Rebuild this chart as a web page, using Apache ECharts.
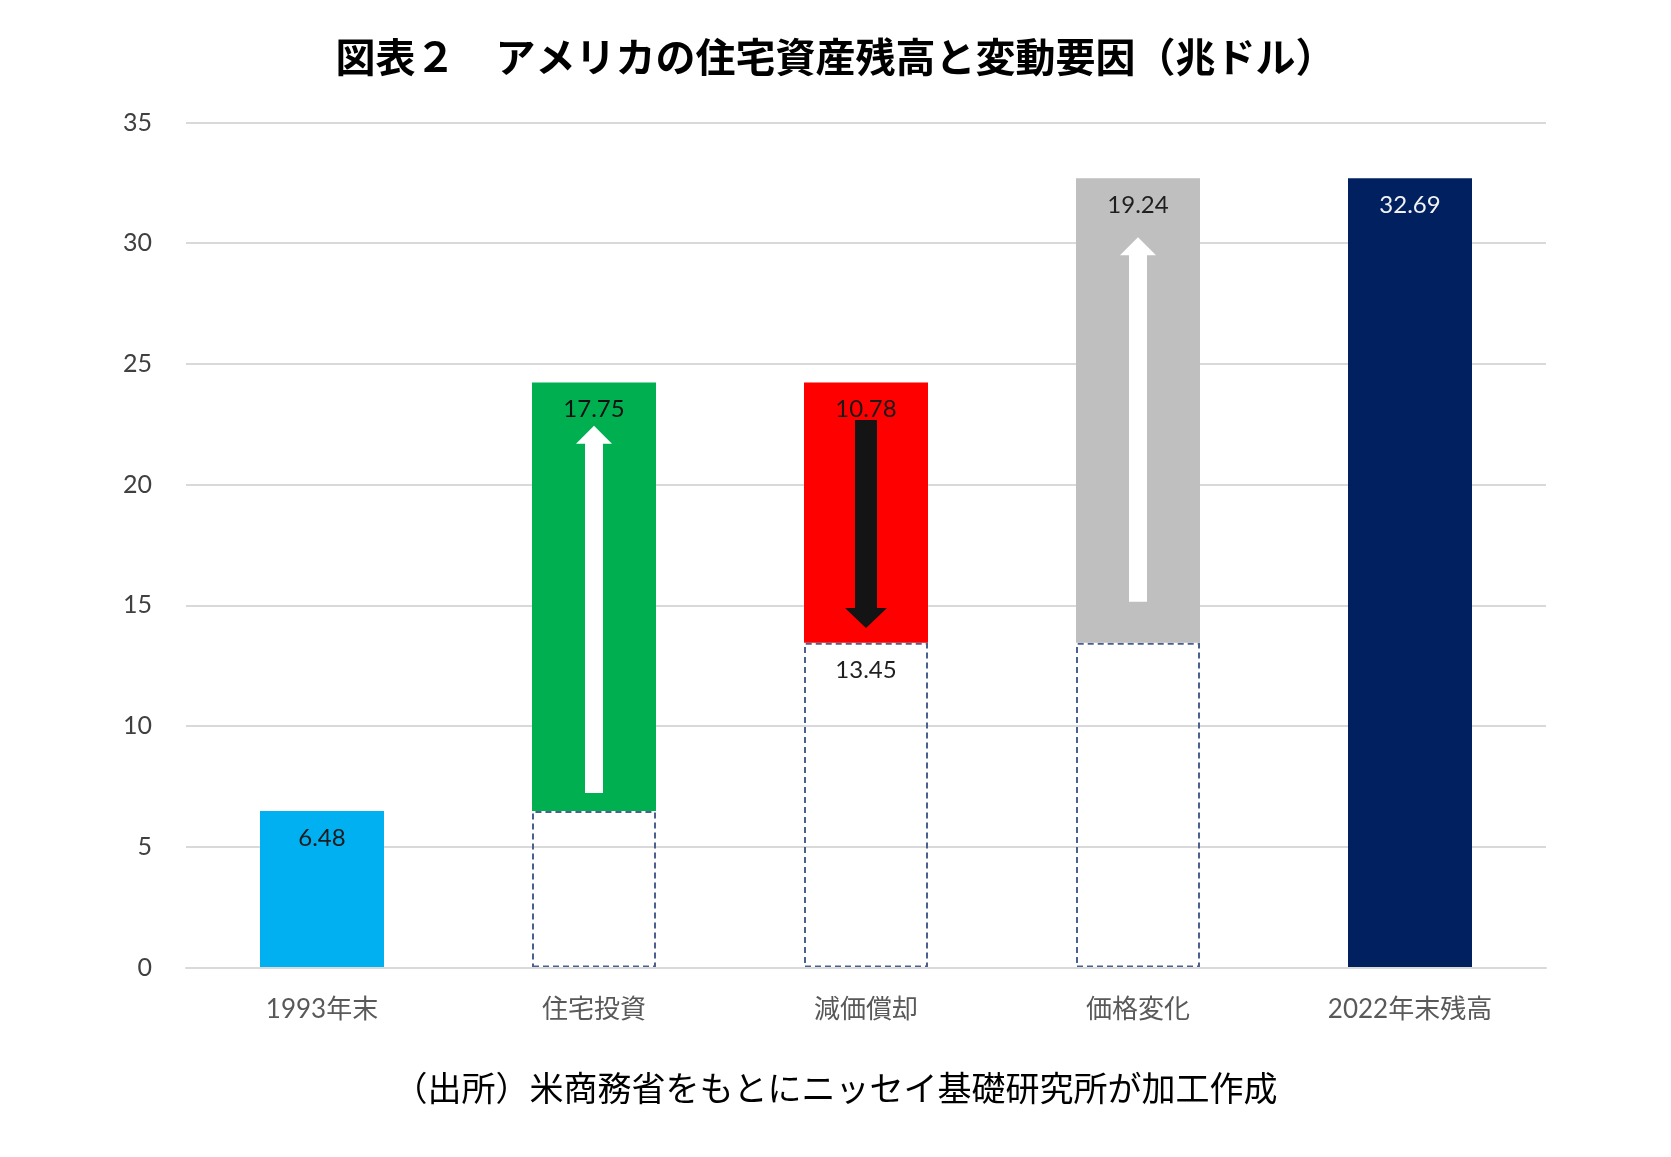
<!DOCTYPE html>
<html>
<head>
<meta charset="utf-8">
<script src="https://cdn.jsdelivr.net/npm/echarts@6/dist/echarts.min.js"></script>
<style>
html,body{margin:0;padding:0;background:#fff;}
#chart{width:1671px;height:1157px;}
</style>
</head>
<body>
<div id="chart"></div>
<script>
// ---- data ----
const categories = ['1993年末', '住宅投資', '減価償却', '価格変化', '2022年末残高'];
const startValue = 6.48;                 // 1993年末
const changes = [17.75, -10.78, 19.24];  // 住宅投資, 減価償却, 価格変化
const endValue = 32.69;                  // 2022年末残高
const yTicks = [0, 5, 10, 15, 20, 25, 30, 35];
// arrows drawn inside the change bars: [category index, from value, to value]
const arrowCat = [1, 2, 3];
const arrowFrom = [7.23, 22.68, 15.15];
const arrowTo = [22.44, 14.06, 30.25];

const titleText = '図表２　アメリカの住宅資産残高と変動要因（兆ドル）';
const sourceText = '（出所）米商務省をもとにニッセイ基礎研究所が加工作成';

// ---- styles ----
const barColors = ['#00B0F0', '#00B050', '#FF0000', '#BFBFBF', '#002060'];
const labelColors = ['#1b1b1b', '#111111', '#1a1a1a', '#1f1f1f', '#F2F2F2'];
const arrowColors = ['#FFFFFF', '#141414', '#FFFFFF'];
const arrowShaftW = [18, 22, 18];
const arrowHeadW = [36, 42, 36];
const arrowHeadH = [18, 20, 18];

// ---- build waterfall ----
const baseData = [];
const valueData = [];
baseData.push('-');
valueData.push(startValue);
let running = startValue;
changes.forEach(function (c) {
  const next = running + c;
  baseData.push(+Math.min(running, next).toFixed(2));
  valueData.push(Math.abs(c));
  running = next;
});
baseData.push('-');
valueData.push(endValue);

const numFont = 'Lato, "Noto Sans", "Noto Sans CJK JP", sans-serif';
const cjkFont = '"Noto Sans CJK JP", sans-serif';

const baseSeriesData = baseData.map(function (v, i) {
  if (v === '-') return v;
  return {
    value: v,
    label: { show: i === 2 }
  };
});
const valueSeriesData = valueData.map(function (v, i) {
  return {
    value: v,
    itemStyle: { color: barColors[i] },
    label: { color: labelColors[i] }
  };
});
const arrowData = arrowCat.map(function (c, i) {
  return [c, arrowFrom[i], arrowTo[i]];
});

const chart = echarts.init(document.getElementById('chart'), null, { renderer: 'canvas' });
chart.setOption({
  backgroundColor: '#ffffff',
  animation: false,
  title: [{
    text: titleText,
    left: 'center',
    top: 32,
    textStyle: { fontFamily: cjkFont, fontSize: 40, fontWeight: 'bold', color: '#000' }
  }, {
    text: sourceText,
    left: 'center',
    top: 1066,
    textStyle: { fontFamily: cjkFont, fontSize: 34, fontWeight: 'normal', color: '#000' }
  }],
  grid: { left: 186, right: 125, top: 122.5, bottom: 189.5 },
  xAxis: {
    type: 'category',
    data: categories,
    z: 4,
    axisTick: { show: false },
    axisLine: { show: true, lineStyle: { color: '#D9D9D9', width: 2 } },
    axisLabel: {
      color: '#595959', fontSize: 26, margin: 29,
      fontFamily: 'Lato, "Noto Sans CJK JP", sans-serif'
    }
  },
  yAxis: {
    type: 'value',
    min: yTicks[0],
    max: yTicks[yTicks.length - 1],
    interval: yTicks[1] - yTicks[0],
    axisLine: { show: false },
    axisTick: { show: false },
    splitLine: { lineStyle: { color: '#D9D9D9', width: 2 } },
    axisLabel: { color: '#404040', fontSize: 25, margin: 34, fontFamily: numFont }
  },
  series: [{
    name: 'base',
    type: 'bar',
    stack: 'total',
    barWidth: 124,
    data: baseSeriesData,
    itemStyle: {
      color: 'rgba(0,0,0,0)',
      borderColor: '#4A6190',
      borderWidth: 2,
      borderType: [6, 4]
    },
    label: {
      show: false,
      position: 'insideTop',
      distance: 15,
      color: '#1f1f1f',
      fontSize: 24,
      fontFamily: numFont,
      formatter: function (p) { return p.value.toFixed(2); }
    },
    silent: true,
    z: 2
  }, {
    name: 'value',
    type: 'bar',
    stack: 'total',
    barWidth: 124,
    data: valueSeriesData,
    label: {
      show: true,
      position: 'insideTop',
      distance: 15,
      fontSize: 24,
      fontFamily: numFont,
      formatter: function (p) { return p.value.toFixed(2); }
    },
    z: 2
  }, {
    name: 'arrows',
    type: 'custom',
    data: arrowData,
    z: 5,
    silent: true,
    renderItem: function (params, api) {
      const i = params.dataIndex;
      const cat = api.value(0);
      const p0 = api.coord([cat, api.value(1)]);
      const p1 = api.coord([cat, api.value(2)]);
      const x = p0[0];
      const y0 = p0[1];
      const y1 = p1[1];
      const dir = y1 < y0 ? -1 : 1;
      const sw = arrowShaftW[i] / 2, hw = arrowHeadW[i] / 2, hh = arrowHeadH[i];
      const yh = y1 - dir * hh;
      return {
        type: 'polygon',
        shape: {
          points: [
            [x - sw, y0], [x - sw, yh], [x - hw, yh], [x, y1],
            [x + hw, yh], [x + sw, yh], [x + sw, y0]
          ]
        },
        style: { fill: arrowColors[i] }
      };
    }
  }]
});
</script>
</body>
</html>
